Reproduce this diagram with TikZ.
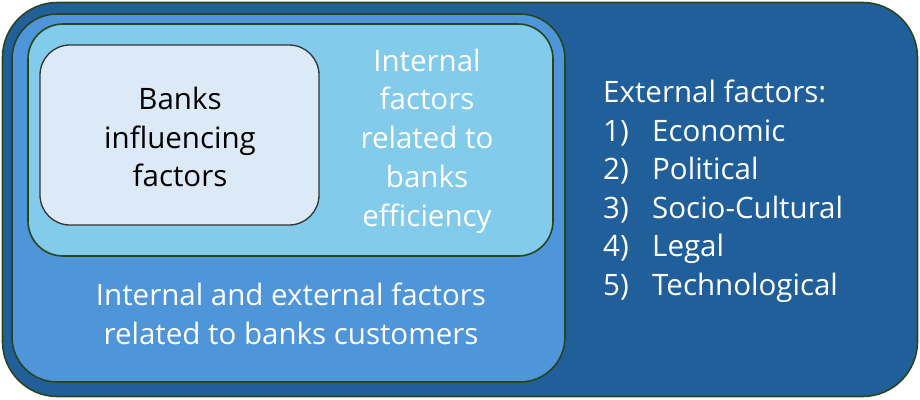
\documentclass[tikz,border=0pt]{standalone}
\usepackage{fontspec}
\setmainfont{Open Sans}
\definecolor{outerblue}{HTML}{215F9A}
\definecolor{midblue}{HTML}{4E95D9}
\definecolor{lightblue}{HTML}{83CBEB}
\definecolor{paleblue}{HTML}{DCEAF7}
\definecolor{edgegreen}{HTML}{27451F}
\begin{document}
\begin{tikzpicture}[x=1pt,y=-1pt,
  layer/.style={draw=edgegreen, line width=1.6pt, rectangle, inner sep=0pt},
  bigtext/.style={font=\fontsize{29.5}{38.8}\selectfont, align=center},
  listline/.style={font=\fontsize{29.5}{38.8}\selectfont, text=white, anchor=base west, inner sep=0pt}]
\useasboundingbox (0,0) rectangle (920,399);
% nested rounded boxes, outermost first
\node[layer, fill=outerblue, rounded corners=55pt, minimum width=915pt, minimum height=394pt] (outer) at (460,199.5) {};
\node[layer, fill=midblue, rounded corners=45pt, minimum width=553pt, minimum height=368pt] (mid) at (288.5,198) {};
\node[layer, fill=lightblue, rounded corners=35pt, minimum width=525pt, minimum height=232pt] (light) at (290.5,140) {};
\node[layer, line width=1.3pt, draw=black!80, fill=paleblue, rounded corners=30pt, minimum width=279pt, minimum height=180pt] (core) at (179.5,135) {};
% labels
\node[bigtext, text=black] (coretext) at (180,137) {Banks\\influencing\\factors};
\node[bigtext, text=white] (lighttext) at (427,141) {Internal\\factors\\related to\\banks\\efficiency};
\node[bigtext, text=white] (midtext) at (291,314) {Internal and external factors\\related to banks customers};
% list of external factors
\node[listline] (exthead) at (603,102.5) {External factors:};
\foreach \i/\name [count=\k] in {1/Economic,2/Political,3/Socio-Cultural,4/Legal,5/Technological}{
  \node[listline] (num\k) at (603,102.5+38.5*\k) {\i)};
  \node[listline] (item\k) at (652,102.5+38.5*\k) {\name};
}
\end{tikzpicture}
\end{document}
